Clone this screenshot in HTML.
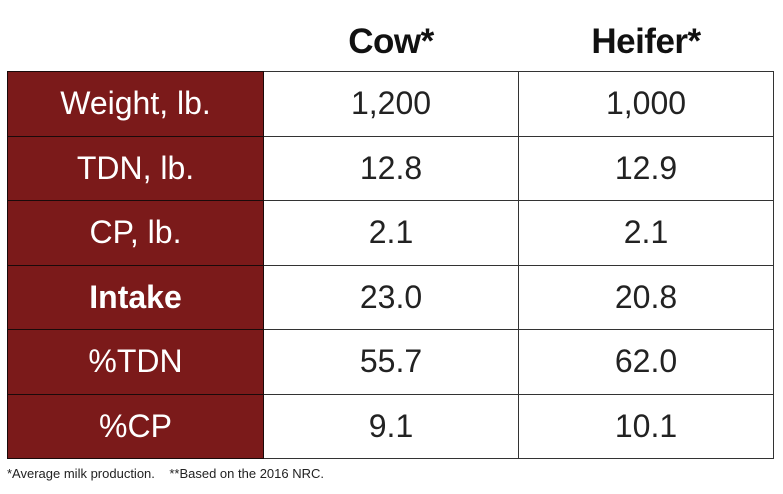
<!DOCTYPE html>
<html><head><style>
body{margin:0;width:783px;height:494px;background:#fff;position:relative;font-family:"Liberation Sans",sans-serif;overflow:hidden}
.h{position:absolute;top:22px;font-weight:bold;font-size:35px;text-align:center;width:256px;color:#111;letter-spacing:-0.5px}
table{position:absolute;left:7px;top:71px;border-collapse:collapse}
td{height:63.5px;border:1.6px solid #333;text-align:center;font-size:32px;color:#222;padding:0}
td.l{background:#7b1a1a;color:#fff;width:255px;border-color:#1a0a0a}
td.v{width:254px}
.f{position:absolute;left:7px;top:466px;font-size:13px;color:#222}
</style></head><body>
<div class="h" style="left:263px">Cow*</div>
<div class="h" style="left:518px">Heifer*</div>
<table>
<tr><td class="l">Weight, lb.</td><td class="v">1,200</td><td class="v">1,000</td></tr>
<tr><td class="l">TDN, lb.</td><td class="v">12.8</td><td class="v">12.9</td></tr>
<tr><td class="l">CP, lb.</td><td class="v">2.1</td><td class="v">2.1</td></tr>
<tr><td class="l"><b>Intake</b></td><td class="v">23.0</td><td class="v">20.8</td></tr>
<tr><td class="l">%TDN</td><td class="v">55.7</td><td class="v">62.0</td></tr>
<tr><td class="l">%CP</td><td class="v">9.1</td><td class="v">10.1</td></tr>
</table>
<div class="f">*Average milk production. &nbsp;&nbsp;&nbsp;**Based on the 2016 NRC.</div>
</body></html>
